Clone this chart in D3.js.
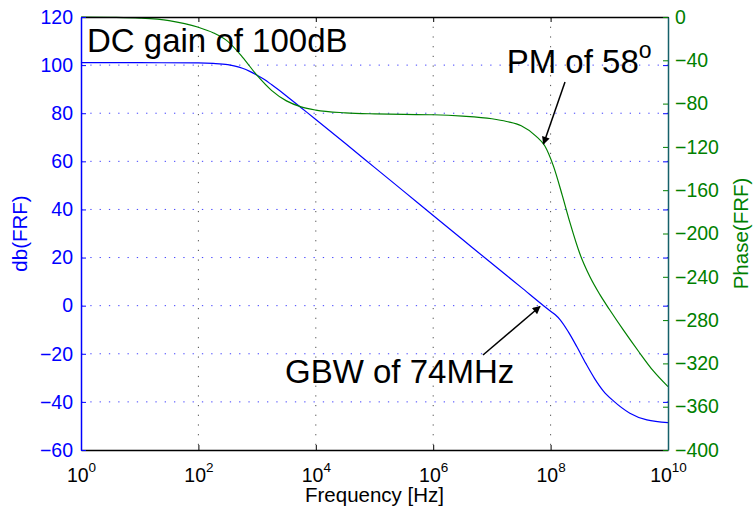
<!DOCTYPE html>
<html>
<head>
<meta charset="utf-8">
<script src="https://cdn.jsdelivr.net/npm/d3@7"></script>
<style>
  body { margin: 0; background: #fff; }
  text { font-family: "Liberation Sans", Arial, Helvetica, sans-serif; }
</style>
</head>
<body>
<div id="chart"></div>
<script>
// frequency points, as exponent of 10 (Hz)
var gainExp = [0, 1, 2, 2.25, 2.5, 2.625, 2.75, 2.875, 3, 3.125, 3.25, 3.5, 3.75, 4, 4.5, 5, 5.5, 6, 6.5, 7, 7.5, 7.88,
               8.0, 8.08, 8.16, 8.3, 8.45, 8.6, 8.75, 8.9, 9.07, 9.35, 9.64, 10];
// magnitude in dB
var gainDb = [101, 101, 100.9, 100.7, 100.2, 99.6, 98.7, 97.4, 95.8, 94.0, 91.8, 87.2, 82.3, 77.4, 67.5, 57.5, 47.5, 37.5, 27.5, 17.5, 7.6, 0,
              -2.3, -3.8, -5.8, -10.8, -17.2, -24, -30.3, -35.5, -39.6, -44.7, -47.5, -48.6];

var phaseExp = [0, 0.5, 1, 1.5, 2, 2.25, 2.5, 2.75, 3, 3.25, 3.5, 3.75, 4, 4.5, 5, 5.5, 6, 6.5, 7, 7.25, 7.5,
                7.75, 7.9, 8.05, 8.2, 8.33, 8.5, 8.67, 8.84, 9.0, 9.25, 9.5, 9.75, 10];
// phase in degrees
var phaseDeg = [0, -0.3, -1, -3.3, -9.5, -14.5, -22.5, -37, -54, -68, -77.5, -83, -86, -88.5, -89.5, -90, -90.3, -91.5, -94, -96.5, -100.5,
                -110, -119, -138, -165, -190, -219, -240, -256.5, -270, -290, -309, -327, -341.5];

var xTickExp = [0, 2, 4, 6, 8, 10];
var dbTicks = [-60, -40, -20, 0, 20, 40, 60, 80, 100, 120];
var phaseTicks = [-400, -360, -320, -280, -240, -200, -160, -120, -80, -40, 0];

var W = 753, H = 512;
var pLeft = 81, pRight = 668, pTop = 17, pBottom = 450;
var blue = "#0000ff", green = "#008000";

var svg = d3.select("#chart").append("svg")
  .attr("width", W).attr("height", H);

svg.append("rect").attr("width", W).attr("height", H).attr("fill", "#fff");

var x = d3.scaleLog().domain([1, 1e10]).range([pLeft, pRight]);
var yL = d3.scaleLinear().domain([-60, 120]).range([pBottom, pTop]);
var yR = d3.scaleLinear().domain([-400, 0]).range([pBottom, pTop]);

// grid: blue horizontal dots, black vertical dots
svg.append("g").selectAll("line")
  .data(dbTicks.slice(1, -1))
  .enter().append("line")
  .attr("x1", pLeft).attr("x2", pRight)
  .attr("y1", function(d) { return yL(d); })
  .attr("y2", function(d) { return yL(d); })
  .attr("stroke", blue).attr("stroke-opacity", 0.75)
  .attr("stroke-width", 1).attr("stroke-dasharray", "1.3,8");

svg.append("g").selectAll("line")
  .data(xTickExp.slice(1, -1))
  .enter().append("line")
  .attr("x1", function(d) { return x(Math.pow(10, d)); })
  .attr("x2", function(d) { return x(Math.pow(10, d)); })
  .attr("y1", pTop).attr("y2", pBottom)
  .attr("stroke", "#222").attr("stroke-opacity", 0.8)
  .attr("stroke-width", 1).attr("stroke-dasharray", "1.2,8.5");

// curves
var gainLine = d3.line()
  .x(function(d) { return x(Math.pow(10, d[0])); })
  .y(function(d) { return yL(d[1]); })
  .curve(d3.curveMonotoneX);

var phaseLine = d3.line()
  .x(function(d) { return x(Math.pow(10, d[0])); })
  .y(function(d) { return yR(d[1]); })
  .curve(d3.curveMonotoneX);

svg.append("path")
  .datum(d3.zip(gainExp, gainDb))
  .attr("d", gainLine)
  .attr("fill", "none").attr("stroke", blue).attr("stroke-width", 1.2);

svg.append("path")
  .datum(d3.zip(phaseExp, phaseDeg))
  .attr("d", phaseLine)
  .attr("fill", "none").attr("stroke", green).attr("stroke-width", 1.2);

// axes
var tickVals = xTickExp.map(function(e) { return Math.pow(10, e); });

var gTop = svg.append("g").attr("transform", "translate(0," + pTop + ")")
  .call(d3.axisTop(x).tickValues(tickVals).tickFormat("").tickSize(-5).tickSizeOuter(0));
gTop.selectAll("line").attr("stroke", "#000");
gTop.select(".domain").attr("stroke", "#000").attr("stroke-width", 1.5);

var gBot = svg.append("g").attr("transform", "translate(0," + pBottom + ")")
  .call(d3.axisBottom(x).tickValues(tickVals).tickFormat("").tickSize(-5).tickSizeOuter(0));
gBot.selectAll("line").attr("stroke", "#000");
gBot.select(".domain").attr("stroke", "#000").attr("stroke-width", 1.5);

// x tick labels as 10^n
gBot.selectAll(".tick").append("text")
  .attr("y", 31.7)
  .attr("text-anchor", "middle")
  .attr("fill", "#000")
  .style("font-size", "19.5px")
  .each(function(d) {
    var t = d3.select(this);
    t.append("tspan").text("10");
    t.append("tspan").attr("dy", -10).style("font-size", "13.5px")
      .text(Math.round(Math.log10(d)));
  });

// blue ticks mirrored on right side
var gMirror = svg.append("g").attr("transform", "translate(" + pRight + ",0)")
  .call(d3.axisRight(yL).tickValues(dbTicks).tickFormat("").tickSize(-5).tickSizeOuter(0));
gMirror.select(".domain").remove();
gMirror.selectAll("line").attr("stroke", blue);

var gLeft = svg.append("g").attr("transform", "translate(" + pLeft + ",0)")
  .call(d3.axisLeft(yL).tickValues(dbTicks).tickSize(-5).tickSizeOuter(0).tickPadding(8)
    .tickFormat(function(d) { return d < 0 ? "\u2212" + Math.abs(d) : d; }));
gLeft.select(".domain").attr("stroke", blue).attr("stroke-width", 1.5);
gLeft.selectAll("line").attr("stroke", blue);
gLeft.selectAll("text").attr("fill", blue).style("font-size", "19.5px");

var gRight = svg.append("g").attr("transform", "translate(" + pRight + ",0)")
  .call(d3.axisRight(yR).tickValues(phaseTicks).tickSize(-5).tickSizeOuter(0).tickPadding(7)
    .tickFormat(function(d) { return d < 0 ? "\u2212" + Math.abs(d) : d; }));
gRight.select(".domain").attr("stroke", "#15606a").attr("stroke-width", 1.5);
gRight.selectAll("line").attr("stroke", green);
gRight.selectAll("text").attr("fill", green).style("font-size", "19.5px");

// axis titles
svg.append("text")
  .attr("transform", "translate(26.5," + (pTop + pBottom) / 2 + ") rotate(-90)")
  .attr("text-anchor", "middle").attr("fill", blue)
  .style("font-size", "20.5px").text("db(FRF)");

svg.append("text")
  .attr("transform", "translate(748," + (pTop + pBottom) / 2 + ") rotate(-90)")
  .attr("text-anchor", "middle").attr("fill", green)
  .style("font-size", "20.5px").text("Phase(FRF)");

svg.append("text")
  .attr("x", (pLeft + pRight) / 2).attr("y", 502)
  .attr("text-anchor", "middle").attr("fill", "#000")
  .style("font-size", "20.5px").text("Frequency [Hz]");

// annotations
svg.append("defs").append("marker")
  .attr("id", "head").attr("viewBox", "0 0 10 10")
  .attr("refX", 9).attr("refY", 5)
  .attr("markerWidth", 10).attr("markerHeight", 8)
  .attr("markerUnits", "userSpaceOnUse")
  .attr("orient", "auto")
  .append("path").attr("d", "M0,0 L10,5 L0,10 z").attr("fill", "#000");

svg.append("text")
  .attr("x", 87).attr("y", 51.7)
  .style("font-size", "33px").attr("fill", "#000")
  .text("DC gain of 100dB");

var pm = svg.append("text")
  .attr("x", 506.7).attr("y", 73.3)
  .style("font-size", "33px").attr("fill", "#000");
pm.append("tspan").text("PM of 58");
pm.append("tspan").attr("dy", -15).style("font-size", "23px").text("o");

svg.append("line")
  .attr("x1", 565).attr("y1", 82).attr("x2", 543.5).attr("y2", 144)
  .attr("stroke", "#000").attr("stroke-width", 1.5)
  .attr("marker-end", "url(#head)");

svg.append("text")
  .attr("x", 285).attr("y", 383.3)
  .style("font-size", "33px").attr("fill", "#000")
  .text("GBW of 74MHz");

svg.append("line")
  .attr("x1", 483).attr("y1", 355).attr("x2", 540).attr("y2", 306.5)
  .attr("stroke", "#000").attr("stroke-width", 1.5)
  .attr("marker-end", "url(#head)");
</script>
</body>
</html>
